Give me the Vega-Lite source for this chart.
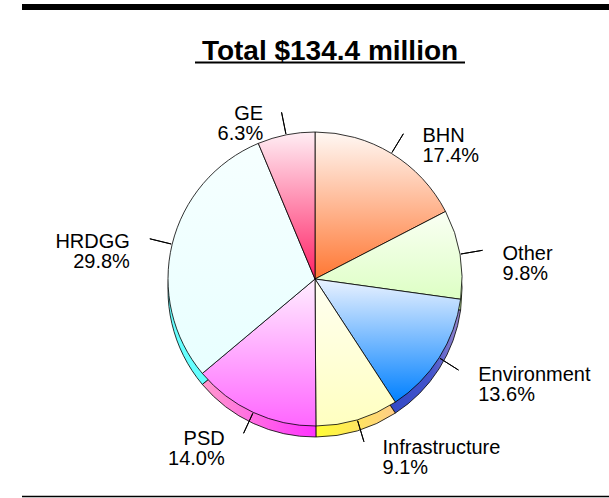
{
  "$schema": "https://vega.github.io/schema/vega-lite/v6.json",
  "width": 588,
  "height": 438,
  "autosize": "none",
  "padding": {"left": 21, "top": 60, "right": 0, "bottom": 0},
  "background": "white",
  "config": {"view": {"stroke": null}, "font": "Liberation Sans"},
  "layer": [
    {
      "data": {"values": [
        {"k": "BHN", "v": 17.4, "o": 1},
        {"k": "Other", "v": 9.8, "o": 2},
        {"k": "Environment", "v": 13.6, "o": 3},
        {"k": "Infrastructure", "v": 9.1, "o": 4},
        {"k": "PSD", "v": 14.0, "o": 5},
        {"k": "HRDGG", "v": 29.8, "o": 6},
        {"k": "GE", "v": 6.3, "o": 7}
      ]},
      "transform": [
        {"window": [{"op": "sum", "field": "v", "as": "cum"}], "sort": [{"field": "o"}], "frame": [null, 0]},
        {"joinaggregate": [{"op": "sum", "field": "v", "as": "tot"}]},
        {"calculate": "(datum.cum - datum.v / 2) / datum.tot * 2 * PI", "as": "mid"},
        {"calculate": "[datum.k, format(datum.v, '.1f') + '%']", "as": "lab"}
      ],
      "layer": [
        {
          "mark": {"type": "arc", "outerRadius": 147, "yOffset": 11, "stroke": "black", "strokeWidth": 0.8},
          "encoding": {
            "theta": {"field": "v", "type": "quantitative", "stack": true},
            "order": {"field": "o"},
            "fill": {
              "condition": [
                {"test": "datum.k === 'BHN'", "value": "#ff8844"},
                {"test": "datum.k === 'Other'", "value": "#c8f0a0"},
                {"test": "datum.k === 'Environment'", "value": {"gradient": "linear", "x1": 0, "y1": 0, "x2": 1, "y2": 0, "stops": [{"offset": 0, "color": "#1133bb"}, {"offset": 0.8, "color": "#4455cc"}, {"offset": 1, "color": "#9988cc"}]}},
                {"test": "datum.k === 'Infrastructure'", "value": {"gradient": "linear", "x1": 0, "y1": 0, "x2": 1, "y2": 0, "stops": [{"offset": 0, "color": "#ffff33"}, {"offset": 1, "color": "#ffcc88"}]}},
                {"test": "datum.k === 'PSD'", "value": {"gradient": "linear", "x1": 0, "y1": 0, "x2": 1, "y2": 0, "stops": [{"offset": 0, "color": "#ff99cc"}, {"offset": 1, "color": "#ff33ff"}]}},
                {"test": "datum.k === 'HRDGG'", "value": "#66ffff"}
              ],
              "value": "#ff3366"
            }
          }
        },
        {
          "mark": {"type": "arc", "outerRadius": 147, "stroke": "black", "strokeWidth": 0.8},
          "encoding": {
            "theta": {"field": "v", "type": "quantitative", "stack": true},
            "order": {"field": "o"},
            "fill": {
              "condition": [
                {"test": "datum.k === 'BHN'", "value": {"gradient": "linear", "x1": 0, "y1": 0, "x2": 0, "y2": 1, "stops": [{"offset": 0, "color": "#fff8f4"}, {"offset": 1, "color": "#ff7733"}]}},
                {"test": "datum.k === 'Other'", "value": {"gradient": "linear", "x1": 0, "y1": 0, "x2": 0, "y2": 1, "stops": [{"offset": 0, "color": "#fafff4"}, {"offset": 1, "color": "#ddffc4"}]}},
                {"test": "datum.k === 'Environment'", "value": {"gradient": "linear", "x1": 0, "y1": 0, "x2": 0, "y2": 1, "stops": [{"offset": 0, "color": "#eaf2ff"}, {"offset": 1, "color": "#0080ff"}]}},
                {"test": "datum.k === 'Infrastructure'", "value": {"gradient": "linear", "x1": 0, "y1": 0, "x2": 0, "y2": 1, "stops": [{"offset": 0, "color": "#fffff2"}, {"offset": 1, "color": "#ffffc0"}]}},
                {"test": "datum.k === 'PSD'", "value": {"gradient": "linear", "x1": 0, "y1": 0, "x2": 0, "y2": 1, "stops": [{"offset": 0, "color": "#ffeeff"}, {"offset": 1, "color": "#ff66ff"}]}},
                {"test": "datum.k === 'HRDGG'", "value": {"gradient": "linear", "x1": 0, "y1": 0, "x2": 0, "y2": 1, "stops": [{"offset": 0, "color": "#f6ffff"}, {"offset": 1, "color": "#e8ffff"}]}}
              ],
              "value": {"gradient": "linear", "x1": 0, "y1": 0, "x2": 0, "y2": 1, "stops": [{"offset": 0, "color": "#ffeef4"}, {"offset": 1, "color": "#ff2266"}]}
            }
          }
        },
        {
          "mark": {"type": "arc", "radius": 148, "radius2": 170, "stroke": "black", "strokeWidth": 1},
          "encoding": {
            "theta": {"field": "mid", "type": "quantitative", "scale": null},
            "theta2": {"field": "mid"}
          }
        },
        {
          "transform": [{"filter": "datum.mid < PI"}],
          "mark": {"type": "text", "radius": 172, "dx": 18, "dy": 4, "fontSize": 20, "font": "Liberation Sans", "color": "black", "align": "left", "baseline": "middle", "lineHeight": 20},
          "encoding": {
            "theta": {"field": "mid", "type": "quantitative", "scale": null},
            "text": {"field": "lab"}
          }
        },
        {
          "transform": [{"filter": "datum.mid >= PI"}],
          "mark": {"type": "text", "radius": 172, "dx": -18, "dy": 4, "fontSize": 20, "font": "Liberation Sans", "color": "black", "align": "right", "baseline": "middle", "lineHeight": 20},
          "encoding": {
            "theta": {"field": "mid", "type": "quantitative", "scale": null},
            "text": {"field": "lab"}
          }
        }
      ]
    },
    {
      "data": {"values": [{"t": "Total $134.4 million"}]},
      "mark": {"type": "text", "font": "Liberation Sans", "fontSize": 28, "fontWeight": "bold", "color": "black", "align": "center", "baseline": "alphabetic"},
      "encoding": {"text": {"field": "t"}, "x": {"value": 309}, "y": {"value": 0}}
    },
    {
      "data": {"values": [{}]},
      "mark": {"type": "rule", "color": "black", "strokeWidth": 6},
      "encoding": {"x": {"value": 1}, "x2": {"value": 588}, "y": {"value": -53}}
    },
    {
      "data": {"values": [{}]},
      "mark": {"type": "rule", "color": "black", "strokeWidth": 2},
      "encoding": {"x": {"value": 174}, "x2": {"value": 444}, "y": {"value": 2.5}}
    },
    {
      "data": {"values": [{}]},
      "mark": {"type": "rule", "color": "black", "strokeWidth": 1.5},
      "encoding": {"x": {"value": 1}, "x2": {"value": 588}, "y": {"value": 436.5}}
    }
  ]
}
